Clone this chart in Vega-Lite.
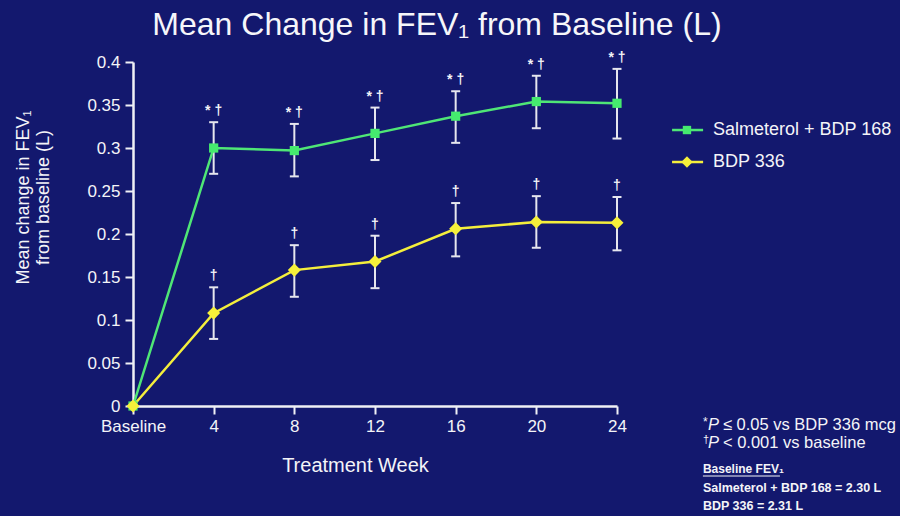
{
  "$schema": "https://vega.github.io/schema/vega-lite/v6.json",
  "width": 484,
  "height": 344,
  "autosize": {"type": "none"},
  "padding": {"left": 133, "top": 62, "right": 283, "bottom": 110},
  "background": "#13186e",
  "config": {
    "view": {"stroke": null},
    "font": "Liberation Sans",
    "text": {"color": "#f4f4f8", "font": "Liberation Sans"}
  },
  "title": {
    "text": "Mean Change in FEV₁ from Baseline (L)",
    "fontSize": 32,
    "fontWeight": "normal",
    "color": "#f6f6fa",
    "anchor": "middle",
    "frame": "group",
    "dx": 62,
    "offset": 9
  },
  "data": {
    "values": [
      {"week": 0, "series": "Salmeterol + BDP 168", "mean": 0, "lo": null, "hi": null, "sig": null},
      {"week": 4, "series": "Salmeterol + BDP 168", "mean": 0.300, "lo": 0.270, "hi": 0.330, "sig": "* †"},
      {"week": 8, "series": "Salmeterol + BDP 168", "mean": 0.297, "lo": 0.267, "hi": 0.328, "sig": "* †"},
      {"week": 12, "series": "Salmeterol + BDP 168", "mean": 0.317, "lo": 0.286, "hi": 0.347, "sig": "* †"},
      {"week": 16, "series": "Salmeterol + BDP 168", "mean": 0.337, "lo": 0.306, "hi": 0.366, "sig": "* †"},
      {"week": 20, "series": "Salmeterol + BDP 168", "mean": 0.354, "lo": 0.323, "hi": 0.384, "sig": "* †"},
      {"week": 24, "series": "Salmeterol + BDP 168", "mean": 0.352, "lo": 0.311, "hi": 0.392, "sig": "* †"},
      {"week": 0, "series": "BDP 336", "mean": 0, "lo": null, "hi": null, "sig": null},
      {"week": 4, "series": "BDP 336", "mean": 0.108, "lo": 0.078, "hi": 0.138, "sig": "†"},
      {"week": 8, "series": "BDP 336", "mean": 0.158, "lo": 0.127, "hi": 0.187, "sig": "†"},
      {"week": 12, "series": "BDP 336", "mean": 0.168, "lo": 0.137, "hi": 0.198, "sig": "†"},
      {"week": 16, "series": "BDP 336", "mean": 0.206, "lo": 0.174, "hi": 0.236, "sig": "†"},
      {"week": 20, "series": "BDP 336", "mean": 0.214, "lo": 0.184, "hi": 0.244, "sig": "†"},
      {"week": 24, "series": "BDP 336", "mean": 0.213, "lo": 0.181, "hi": 0.243, "sig": "†"}
    ]
  },
  "encoding": {
    "x": {
      "field": "week",
      "type": "quantitative",
      "scale": {"domain": [0, 24], "nice": false, "zero": false},
      "axis": {
        "values": [0, 4, 8, 12, 16, 20, 24],
        "labelExpr": "datum.value == 0 ? 'Baseline' : datum.label",
        "title": "Treatment Week",
        "titleFontSize": 20,
        "titleFontWeight": "normal",
        "titleColor": "#f4f4f8",
        "titleX": 222,
        "titlePadding": 21,
        "labelFontSize": 17,
        "labelColor": "#f4f4f8",
        "labelPadding": 4,
        "labelFlush": false,
        "domainColor": "#f0f0f6",
        "domainWidth": 2.5,
        "tickColor": "#f0f0f6",
        "tickWidth": 2,
        "tickSize": 8,
        "grid": false
      }
    },
    "y": {
      "field": "mean",
      "type": "quantitative",
      "scale": {"domain": [0, 0.4], "nice": false},
      "axis": {
        "values": [0, 0.05, 0.1, 0.15, 0.2, 0.25, 0.3, 0.35, 0.4],
        "format": "~g",
        "title": ["Mean change in FEV₁", "from baseline (L)"],
        "titleFontSize": 18,
        "titleFontWeight": "normal",
        "titleColor": "#f4f4f8",
        "titleLineHeight": 20,
        "titleAlign": "center",
        "titleBaseline": "top",
        "titleAngle": -90,
        "titleX": -119,
        "titleY": 135,
        "labelFontSize": 17,
        "labelColor": "#f4f4f8",
        "labelPadding": 5,
        "labelFlush": false,
        "domainColor": "#f0f0f6",
        "domainWidth": 2.5,
        "tickColor": "#f0f0f6",
        "tickWidth": 2,
        "tickSize": 8,
        "grid": false
      }
    }
  },
  "layer": [
    {
      "transform": [{"filter": "isValid(datum.lo)"}],
      "mark": {"type": "rule", "color": "#e6e6ee", "strokeWidth": 2},
      "encoding": {"y": {"field": "lo", "type": "quantitative"}, "y2": {"field": "hi"}}
    },
    {
      "transform": [{"filter": "isValid(datum.lo)"}],
      "mark": {"type": "tick", "orient": "horizontal", "color": "#e6e6ee", "size": 9, "thickness": 2, "opacity": 1},
      "encoding": {"y": {"field": "lo", "type": "quantitative"}}
    },
    {
      "transform": [{"filter": "isValid(datum.hi)"}],
      "mark": {"type": "tick", "orient": "horizontal", "color": "#e6e6ee", "size": 9, "thickness": 2, "opacity": 1},
      "encoding": {"y": {"field": "hi", "type": "quantitative"}}
    },
    {
      "mark": {"type": "line", "strokeWidth": 2.5},
      "encoding": {
        "color": {
          "field": "series",
          "type": "nominal",
          "scale": {"domain": ["Salmeterol + BDP 168", "BDP 336"], "range": ["#4fe676", "#f4ee3c"]},
          "legend": null
        }
      }
    },
    {
      "transform": [{"filter": "datum.series == 'Salmeterol + BDP 168'"}],
      "mark": {"type": "point", "shape": "square", "filled": true, "size": 85, "color": "#45ea6e", "opacity": 1}
    },
    {
      "transform": [{"filter": "datum.series == 'BDP 336'"}],
      "mark": {"type": "point", "shape": "diamond", "filled": true, "size": 170, "color": "#f6f03a", "opacity": 1}
    },
    {
      "transform": [{"filter": "isValid(datum.sig)"}],
      "mark": {"type": "text", "fontSize": 14, "fontWeight": "bold", "baseline": "alphabetic", "dy": -7, "color": "#f4f4f8"},
      "encoding": {"y": {"field": "hi", "type": "quantitative"}, "text": {"field": "sig"}}
    },
    {
      "transform": [{"filter": "datum.week == 0 && datum.series == 'BDP 336'"}],
      "layer": [
        {
          "mark": {"type": "rule", "color": "#4fe676", "strokeWidth": 2.5},
          "encoding": {"x": {"datum": 26.73}, "x2": {"datum": 28.27}, "y": {"datum": 0.3209}}
        },
        {
          "mark": {"type": "point", "shape": "square", "filled": true, "size": 70, "color": "#45ea6e", "opacity": 1},
          "encoding": {"x": {"datum": 27.47}, "y": {"datum": 0.3209}}
        },
        {
          "mark": {"type": "text", "align": "left", "baseline": "middle", "fontSize": 18},
          "encoding": {"x": {"datum": 28.76}, "y": {"datum": 0.3209}, "text": {"value": "Salmeterol + BDP 168"}}
        },
        {
          "mark": {"type": "rule", "color": "#f4ee3c", "strokeWidth": 2.5},
          "encoding": {"x": {"datum": 26.73}, "x2": {"datum": 28.27}, "y": {"datum": 0.2837}}
        },
        {
          "mark": {"type": "point", "shape": "diamond", "filled": true, "size": 130, "color": "#f6f03a", "opacity": 1},
          "encoding": {"x": {"datum": 27.47}, "y": {"datum": 0.2837}}
        },
        {
          "mark": {"type": "text", "align": "left", "baseline": "middle", "fontSize": 18},
          "encoding": {"x": {"datum": 28.76}, "y": {"datum": 0.2837}, "text": {"value": "BDP 336"}}
        },
        {
          "mark": {"type": "text", "align": "left", "baseline": "middle", "fontSize": 12, "dy": -3},
          "encoding": {"x": {"datum": 28.26}, "y": {"datum": -0.0221}, "text": {"value": "*"}}
        },
        {
          "mark": {"type": "text", "align": "left", "baseline": "middle", "fontSize": 16.5, "fontStyle": "italic", "dx": 5},
          "encoding": {"x": {"datum": 28.26}, "y": {"datum": -0.0221}, "text": {"value": "P"}}
        },
        {
          "mark": {"type": "text", "align": "left", "baseline": "middle", "fontSize": 16.5, "dx": 20},
          "encoding": {"x": {"datum": 28.26}, "y": {"datum": -0.0221}, "text": {"value": "≤ 0.05 vs BDP 336 mcg"}}
        },
        {
          "mark": {"type": "text", "align": "left", "baseline": "middle", "fontSize": 11, "dy": -3},
          "encoding": {"x": {"datum": 28.26}, "y": {"datum": -0.043}, "text": {"value": "†"}}
        },
        {
          "mark": {"type": "text", "align": "left", "baseline": "middle", "fontSize": 16.5, "fontStyle": "italic", "dx": 5},
          "encoding": {"x": {"datum": 28.26}, "y": {"datum": -0.043}, "text": {"value": "P"}}
        },
        {
          "mark": {"type": "text", "align": "left", "baseline": "middle", "fontSize": 16.5, "dx": 20},
          "encoding": {"x": {"datum": 28.26}, "y": {"datum": -0.043}, "text": {"value": "< 0.001 vs baseline"}}
        },
        {
          "mark": {"type": "text", "align": "left", "baseline": "middle", "fontSize": 12, "fontWeight": "bold"},
          "encoding": {"x": {"datum": 28.26}, "y": {"datum": -0.0733}, "text": {"value": "Baseline FEV₁"}}
        },
        {
          "mark": {"type": "rule", "color": "#f4f4f8", "strokeWidth": 1},
          "encoding": {"x": {"datum": 28.26}, "x2": {"datum": 32.08}, "y": {"datum": -0.0814}}
        },
        {
          "mark": {"type": "text", "align": "left", "baseline": "middle", "fontSize": 12.5, "fontWeight": "bold"},
          "encoding": {"x": {"datum": 28.26}, "y": {"datum": -0.0953}, "text": {"value": "Salmeterol + BDP 168 = 2.30 L"}}
        },
        {
          "mark": {"type": "text", "align": "left", "baseline": "middle", "fontSize": 12.5, "fontWeight": "bold"},
          "encoding": {"x": {"datum": 28.26}, "y": {"datum": -0.1163}, "text": {"value": "BDP 336 = 2.31 L"}}
        }
      ]
    }
  ]
}
